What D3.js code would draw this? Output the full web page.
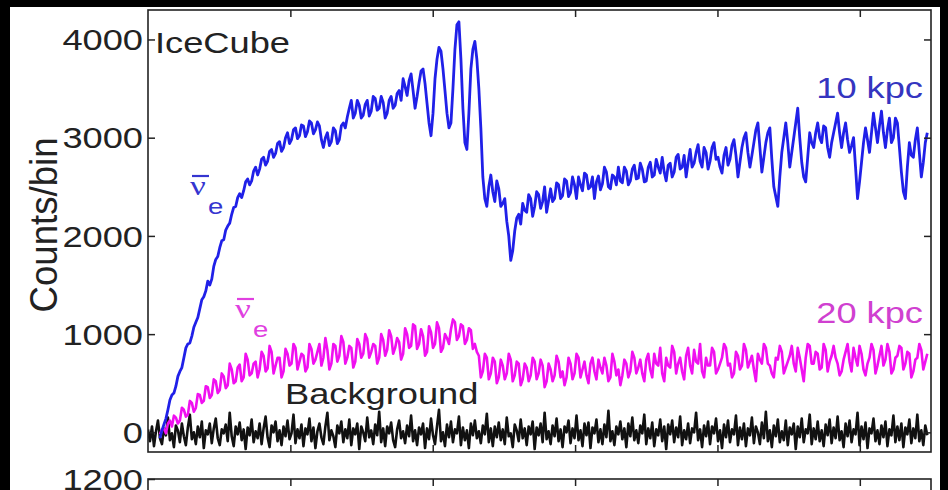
<!DOCTYPE html>
<html>
<head>
<meta charset="utf-8">
<script src="https://cdn.jsdelivr.net/npm/d3@7"></script>
<style>
  html, body { margin: 0; padding: 0; background: #000; }
  svg { display: block; }
</style>
</head>
<body>
<div id="chart"></div>
<script>
// IceCube supernova light curves, counts per 1.4 ms bin
const binWidthMs = 1.4;
const signalStartBin = 6;

const yTicks = [0, 1000, 2000, 3000, 4000];
const xTicks = [100, 200, 300, 400, 500];
const lowerTicks = [1200];

// 10 kpc (blue), starting at bin 6
const counts10kpc = [
  -60, 20, 80, 140, 230, 330, 380, 400, 470, 570,
  620, 660, 760, 860, 900, 910, 980, 1070, 1120, 1170,
  1260, 1350, 1380, 1440, 1540, 1500, 1560, 1690, 1760, 1790,
  1880, 1950, 1960, 2060, 2100, 2130, 2220, 2290, 2300, 2390,
  2430, 2390, 2460, 2550, 2580, 2520, 2560, 2660, 2700, 2620,
  2680, 2780, 2800, 2720, 2760, 2860, 2880, 2800, 2840, 2940,
  2960, 2860, 2900, 3000, 3050, 2940, 2980, 3080, 3100, 2990,
  3020, 3130, 3120, 3010, 3060, 3170, 3150, 3040, 3080, 3160,
  3120, 2980, 2900, 3000, 3050, 2920, 2960, 3100, 3070, 2940,
  2980, 3120, 3150, 3100, 3210, 3300, 3380, 3200, 3250, 3380,
  3330, 3200, 3230, 3340, 3380, 3220, 3270, 3420, 3400, 3280,
  3300, 3420, 3360, 3200, 3250, 3380, 3420, 3300, 3330, 3450,
  3480, 3380, 3600, 3520, 3430, 3580, 3650, 3480, 3300, 3420,
  3560, 3680, 3700, 3550, 3350, 3150, 3020, 3250, 3600, 3800,
  3920, 3880, 3700, 3480, 3250, 3100, 3150, 3500, 3900, 4150,
  4180, 3800, 3300, 2950, 2880, 3250, 3700, 3900, 3980, 3800,
  3500, 3100, 2600, 2380, 2300, 2500, 2620, 2450, 2350, 2560,
  2480, 2300, 2330, 2380, 2150, 2000, 1750, 1850, 2050, 2180,
  2220, 2120, 2330, 2260, 2240, 2420, 2380, 2200, 2300, 2450,
  2420, 2280, 2350, 2500, 2240, 2360, 2480, 2350, 2380, 2540,
  2520, 2380, 2410, 2580, 2560, 2400, 2440, 2600, 2520, 2380,
  2600, 2520, 2460, 2640, 2620, 2480, 2500, 2600, 2380, 2550,
  2610, 2470, 2530, 2700, 2650, 2500, 2480, 2620, 2600, 2520,
  2700, 2560, 2540, 2700, 2660, 2520, 2560, 2680, 2720, 2580,
  2590, 2740, 2680, 2550, 2560, 2700, 2750, 2600, 2620, 2780,
  2700, 2640, 2800, 2650, 2560, 2720, 2740, 2600, 2650, 2800,
  2830, 2680, 2700, 2820, 2600, 2750, 2880, 2700, 2740, 2850,
  2930, 2760, 2700, 2900, 2850, 2680, 2760, 2900, 2950, 2780,
  2800, 2700, 2640, 2820, 2900, 2720, 2780, 2920, 2980, 2820,
  2600, 2750, 2900, 3000, 3050, 2850, 2700, 2820, 2950, 3080,
  3150, 2900, 2650, 2800, 2950, 3050, 3100, 2780, 2500, 2400,
  2300, 2600, 2850, 3000, 3150, 2950, 2700, 2850, 3000, 3150,
  3300, 3000, 2750, 2600, 2550, 2800, 3050, 2950, 2900, 3050,
  3150, 3000, 2950, 3120, 3100, 2900, 2800, 2950, 3050, 3150,
  3250, 3050, 2900, 3050, 3150, 2980, 2850, 2920, 3000, 2700,
  2380, 2550, 2750, 2950, 3100, 2980, 2850, 3050, 3250, 3100,
  2950, 3120, 3270, 3050, 2900, 3080, 3200, 2950, 3000, 3200,
  3150, 2900, 2650, 2450, 2380, 2700, 2950, 2820, 2800, 2980,
  3100, 2850, 2600, 2750, 2950, 3050
];

// 20 kpc (magenta), starting at bin 6
const counts20kpc = [
  -20, 30, 40, -10, 90, 120, 60, 170, 150, 90,
  120, 250, 230, 160, 180, 320, 300, 210, 250, 390,
  380, 300, 320, 470, 460, 350, 380, 540, 520, 400,
  430, 600, 570, 450, 480, 700, 640, 500, 520, 660,
  690, 520, 560, 800, 740, 580, 600, 700, 720, 560,
  640, 820, 780, 620, 650, 880, 820, 600, 680, 760,
  760, 560, 620, 850, 800, 680, 700, 900, 860, 640,
  720, 800, 780, 620, 660, 900, 850, 700, 740, 820,
  900, 680, 760, 960, 840, 640, 700, 900, 880, 720,
  780, 980, 920, 700, 760, 880, 860, 660, 720, 950,
  900, 760, 800, 1000, 950, 760, 820, 900, 880, 700,
  760, 1000, 940, 780, 840, 1040, 980, 800, 860, 960,
  920, 740, 800, 1060, 1000, 860, 880, 1100, 1080, 850,
  900, 1050, 980, 780, 820, 1080, 1020, 860, 900, 1120,
  1060, 820, 860, 1000, 960, 900, 1050, 1150, 1120, 940,
  980, 1100, 1080, 900, 940, 1060, 1040, 850, 900, 820,
  780, 560, 620, 800, 760, 540, 600, 760, 720, 500,
  560, 740, 680, 540, 600, 800, 740, 520, 580, 720,
  700, 480, 540, 700, 660, 520, 580, 760, 720, 540,
  600, 740, 680, 460, 520, 700, 640, 520, 580, 780,
  720, 560, 620, 480, 560, 760, 700, 540, 600, 800,
  760, 560, 640, 720, 580, 500, 700, 760, 620, 540,
  740, 660, 600, 760, 680, 520, 560, 800, 720, 580,
  640, 480, 580, 740, 700, 560, 620, 820, 760, 600,
  660, 740, 600, 520, 740, 800, 640, 560, 800, 700,
  680, 860, 600, 520, 760, 680, 660, 880, 820, 600,
  700, 760, 620, 540, 780, 860, 680, 600, 840, 720,
  700, 900, 620, 560, 760, 680, 680, 860, 820, 600,
  640, 700, 760, 900, 860, 680, 700, 560, 600, 820,
  780, 640, 680, 900, 840, 660, 720, 780, 640, 520,
  800, 740, 700, 900, 860, 700, 680, 600, 560, 760,
  740, 880, 820, 600, 660, 720, 780, 880, 700, 620,
  860, 760, 640, 520, 760, 900, 880, 700, 700, 820,
  800, 640, 660, 900, 840, 620, 720, 780, 880, 760,
  700, 580, 620, 740, 820, 900, 720, 620, 860, 760,
  680, 880, 800, 640, 580, 700, 760, 900, 840, 600,
  680, 780, 880, 680, 740, 900, 820, 600, 640, 760,
  780, 880, 860, 640, 700, 820, 800, 560, 620, 740,
  760, 900, 840, 640, 720, 800
];

// background (black), starting at bin 0
const background = [
  30, -90, 60, -140, 10, 120, -60, -120, 40, -30, 150, -80, -10, -150, 70, 20, -100, 90, -40, -130,
  50, 180, -70, 0, -120, 60, -50, 110, -160, 20, -20, 90, -110, 40, 140, -60, -130, 30, -10, 80,
  -90, 200, -40, -140, 60, -20, 100, -80, 30, -170, 50, -30, 130, -100, 10, -60, 90, -120, 40, 160,
  -50, -150, 70, 0, 110, -90, 20, -130, 60, -40, 120, -70, -10, 180, -110, 30, -60, 80, -140, 40,
  -20, 140, -90, 50, -160, 10, 90, -50, -120, 60, 200, -80, 20, -40, -150, 70, -10, 110, -100, 30,
  -60, 130, -130, 40, -20, 90, -170, 60, 0, -90, 150, -50, 20, -120, 80, -30, 210, -100, 40, -140,
  60, -10, 100, -80, -150, 30, 120, -60, 10, -110, 70, -40, 170, -90, 20, -130, 50, -20, 90, -160,
  40, -70, 140, -30, -120, 60, 230, -90, 0, -140, 80, -50, 110, -100, 30, -10, 160, -130, 50, -80,
  20, -160, 90, -30, 120, -60, 10, -110, 70, -20, 190, -100, 40, -140, 60, -50, 100, -80, 30, -120,
  150, -40, -10, -150, 80, 20, -90, 130, -60, 40, -130, 60, -20, 110, -170, 50, -30, 90, -100, 200,
  -70, 10, -120, 70, -40, 140, -90, 30, -150, 60, 0, 120, -110, 40, -60, 170, -80, 20, -140, 90,
  -30, 100, -160, 50, -10, 130, -100, 30, -120, 80, -50, 220, -90, 10, -130, 60, -20, 110, -70, 40,
  -150, 90, -40, 150, -80, 20, -110, 70, -10, 180, -120, 40, -60, 100, -140, 30, -30, 130, -90, 60,
  -170, 80, -20, 120, -100, 50, -50, 160, -130, 20, -70, 90, -110, 40, 0, 200, -80, 30, -150, 70,
  -40, 110, -120, 60, -10, 140, -90, 20, -160, 80, -50, 120, -100, 30, -20, 170, -130, 50, -70, 90,
  -140, 40, -30, 150, -110, 60, 0, -120, 100, -60, 210, -90, 20, -150, 70, -40, 130, -100, 10, -80,
  120, -130, 50, -20, 90, -170, 60, -50, 140, -100, 30, -10, 180, -120, 40, -70, 110, -90, 20, -140,
  80, -30, 130, -110, 50, -60, 160, -80, 10, -150, 90, -40, 120, -100, 30, -20, 200, -130, 60, -70,
  100, -160, 40, -10, 140, -90, 20, -120, 70, -50, 110, -140, 30, -30, 170, -100, 60, -80, 90, -150,
  50, -20, 130, -110, 40, -60, 180, -90, 20, -130, 70, -30
];

const W = 948, H = 490;
const margin = { left: 148, top: 10, right: 931, bottom: 452 };
const lowerTop = 479;
const stretch = 1.25; // the figure is wider than tall
const sans = "'Liberation Sans', Arial, sans-serif";
const serif = "'Liberation Serif', 'Times New Roman', serif";

const svg = d3.select("#chart").append("svg")
  .attr("width", W)
  .attr("height", H);

// white page
svg.append("rect")
  .attr("x", 10).attr("y", 7)
  .attr("width", 930).attr("height", H - 7)
  .attr("fill", "#fff");

const x = d3.scaleLinear().domain([0, 550]).range([margin.left, margin.right]);
const y = d3.scaleLinear().domain([-200, 4300]).range([margin.bottom, margin.top]);

svg.append("clipPath").attr("id", "plot-clip")
  .append("rect")
  .attr("x", margin.left).attr("y", margin.top)
  .attr("width", margin.right - margin.left)
  .attr("height", margin.bottom - margin.top);

function toPoints(values, startBin) {
  return values.map((v, i) => [(startBin + i) * binWidthMs, v]);
}

const line = d3.line()
  .x(d => x(d[0]))
  .y(d => y(d[1]));

const lines = svg.append("g").attr("clip-path", "url(#plot-clip)")
  .attr("fill", "none")
  .attr("stroke-linejoin", "round");

lines.append("path")
  .attr("d", line(toPoints(background, 0)))
  .attr("stroke", "#111")
  .attr("stroke-width", 2.6);

lines.append("path")
  .attr("d", line(toPoints(counts20kpc, signalStartBin)))
  .attr("stroke", "#f010f0")
  .attr("stroke-width", 2.6);

lines.append("path")
  .attr("d", line(toPoints(counts10kpc, signalStartBin)))
  .attr("stroke", "#2020e8")
  .attr("stroke-width", 2.8);

// axes, matlab style with inward ticks
function styleAxis(g) {
  g.select(".domain").remove();
  g.selectAll(".tick line").attr("stroke", "#222").attr("stroke-width", 1.5);
  g.selectAll(".tick text")
    .attr("fill", "#222")
    .style("font-family", sans)
    .style("font-size", "29px");
}

const yAxis = svg.append("g")
  .attr("transform", `translate(${margin.left},0)`)
  .call(d3.axisLeft(y).tickValues(yTicks).tickFormat(d3.format("d"))
    .tickSizeInner(-7).tickSizeOuter(0).tickPadding(5))
  .call(styleAxis);
yAxis.selectAll(".tick text")
  .attr("x", null).attr("dy", "0.35em")
  .attr("transform", `translate(-5,0) scale(${stretch},1)`);

svg.append("g")
  .attr("transform", `translate(${margin.right},0)`)
  .call(d3.axisRight(y).tickValues(yTicks).tickSizeInner(-7).tickSizeOuter(0).tickFormat(""))
  .call(styleAxis);

svg.append("g")
  .attr("transform", `translate(0,${margin.top})`)
  .call(d3.axisTop(x).tickValues(xTicks).tickSizeInner(-7).tickSizeOuter(0).tickFormat(""))
  .call(styleAxis);

svg.append("g")
  .attr("transform", `translate(0,${margin.bottom})`)
  .call(d3.axisBottom(x).tickValues(xTicks).tickSizeInner(-7).tickSizeOuter(0).tickFormat(""))
  .call(styleAxis);

svg.append("rect")
  .attr("x", margin.left).attr("y", margin.top)
  .attr("width", margin.right - margin.left)
  .attr("height", margin.bottom - margin.top)
  .attr("fill", "none")
  .attr("stroke", "#222")
  .attr("stroke-width", 1.6);

// lower panel, only its top edge is in view
const yLow = d3.scaleLinear().domain([0, 1200]).range([lowerTop + 400, lowerTop]);

const lowAxis = svg.append("g")
  .attr("transform", `translate(${margin.left},0)`)
  .call(d3.axisLeft(yLow).tickValues(lowerTicks).tickFormat(d3.format("d"))
    .tickSizeInner(-7).tickSizeOuter(0).tickPadding(5))
  .call(styleAxis);
lowAxis.selectAll(".tick text")
  .attr("x", null).attr("dy", "0.35em")
  .attr("transform", `translate(-5,0) scale(${stretch},1)`);

svg.append("g")
  .attr("transform", `translate(0,${lowerTop})`)
  .call(d3.axisTop(x).tickValues(xTicks).tickSizeInner(-7).tickSizeOuter(0).tickFormat(""))
  .call(styleAxis);

svg.append("rect")
  .attr("x", margin.left).attr("y", lowerTop)
  .attr("width", margin.right - margin.left)
  .attr("height", 400)
  .attr("fill", "none")
  .attr("stroke", "#222")
  .attr("stroke-width", 1.6);

// labels
function label(txt, px, py, color, opts = {}) {
  return svg.append("text")
    .attr("transform", `translate(${px},${py}) scale(${stretch},1)`)
    .attr("text-anchor", opts.anchor || "start")
    .attr("fill", color)
    .style("font-family", opts.family || sans)
    .style("font-size", (opts.size || 29) + "px")
    .text(txt);
}

label("IceCube", 155, 53, "#222");
label("10 kpc", 923, 98, "#3535c0", { anchor: "end" });
label("20 kpc", 923, 323, "#d040d0", { anchor: "end" });
label("Background", 285, 404, "#222");

// nu-bar-e annotations
function nuBar(px, py, color) {
  label("ν", px, py, color, { family: serif, size: 28 });
  svg.append("line")
    .attr("x1", px + 2).attr("x2", px + 19)
    .attr("y1", py - 19).attr("y2", py - 19)
    .attr("stroke", color).attr("stroke-width", 2.2);
  label("e", px + 18, py + 19, color, { size: 22 });
}
nuBar(190, 195, "#3535d0");
nuBar(235, 318, "#e040e0");

// y title
svg.append("text")
  .attr("transform", `translate(57,225) rotate(-90) scale(1,${stretch})`)
  .attr("text-anchor", "middle")
  .attr("textLength", 175)
  .attr("lengthAdjust", "spacingAndGlyphs")
  .attr("fill", "#222")
  .style("font-family", sans)
  .style("font-size", "31px")
  .text("Counts/bin");
</script>
</body>
</html>
